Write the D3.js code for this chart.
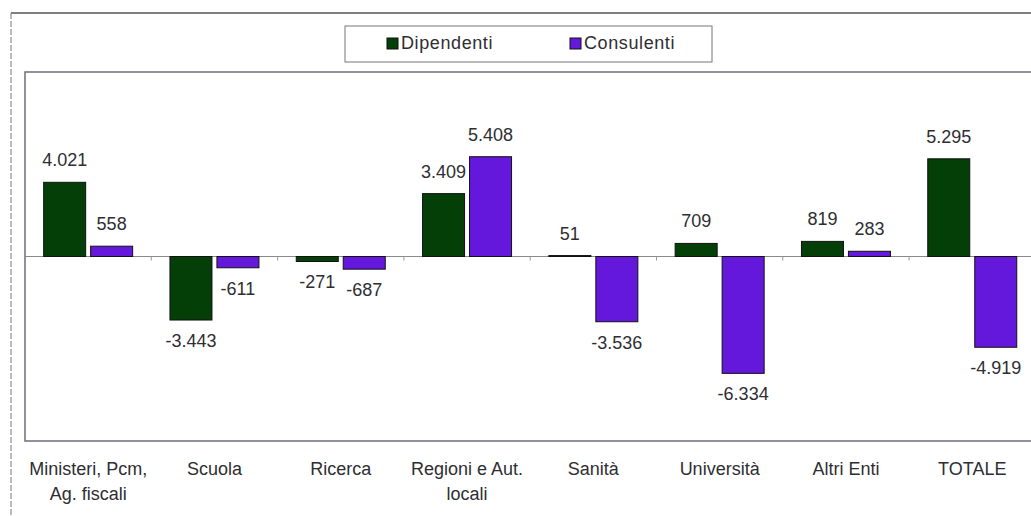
<html>
<head>
<script src="https://d3js.org/d3.v7.min.js"></script>
<style>
  body { margin: 0; background: #fff; }
  text { font-family: "Liberation Sans", Arial, sans-serif; fill: #2e2e32; }
</style>
</head>
<body>
<script>
// data
var categories = ["Ministeri", "Scuola", "Ricerca", "Regioni", "Sanita", "Universita", "Altri Enti", "TOTALE"];
var categoryLabels = [["Ministeri, Pcm,", "Ag. fiscali"], ["Scuola"], ["Ricerca"], ["Regioni e Aut.", "locali"],
                      ["Sanità"], ["Università"], ["Altri Enti"], ["TOTALE"]];
var series = ["Dipendenti", "Consulenti"];
var dipendenti = [4021, -3443, -271, 3409, 51, 709, 819, 5295];
var consulenti = [558, -611, -687, 5408, -3536, -6334, 283, -4919];
var colors = ["#053f08", "#6418dc"];

var W = 1031, H = 516;
var svg = d3.select("body").append("svg").attr("width", W).attr("height", H);

var fmt = d3.formatLocale({decimal: ",", thousands: ".", grouping: [3], currency: ["", ""], minus: "-"}).format(",d");

var plotLeft = 25, plotTop = 72, plotBottom = 441;
var x0 = d3.scaleBand().domain(categories).range([plotLeft, plotLeft + 8 * 126.3]);
var x1 = d3.scaleBand().domain(series).range([0, x0.bandwidth()]).paddingInner(0.106).paddingOuter(0.397);
var y = d3.scaleLinear().domain([-10000, 10000]).range([plotBottom, plotTop]);

// outer frame (only top and left edges show)
svg.append("line").attr("x1", 11).attr("x2", W).attr("y1", 13).attr("y2", 13)
    .attr("stroke", "#555").attr("stroke-width", 1.5);
svg.append("line").attr("x1", 11).attr("x2", 11).attr("y1", 13).attr("y2", H)
    .attr("stroke", "#777").attr("stroke-width", 1).attr("stroke-dasharray", "6,2");

// plot area border
svg.append("rect").attr("x", plotLeft).attr("y", plotTop)
    .attr("width", W + 20 - plotLeft).attr("height", plotBottom - plotTop)
    .attr("fill", "none").attr("stroke", "#6e6e7c").attr("stroke-width", 1.5);

// zero line with ticks at category boundaries
svg.append("line").attr("x1", plotLeft).attr("x2", W).attr("y1", y(0)).attr("y2", y(0))
    .attr("stroke", "#8a8a8a").attr("stroke-width", 1);
svg.selectAll(".tick").data(categories.slice(1)).enter().append("line")
    .attr("x1", function (d) { return x0(d); }).attr("x2", function (d) { return x0(d); })
    .attr("y1", y(0)).attr("y2", y(0) + 4)
    .attr("stroke", "#999");

var rows = categories.map(function (c, i) {
    return [{c: c, s: 0, v: dipendenti[i]}, {c: c, s: 1, v: consulenti[i]}];
});

var groups = svg.selectAll(".grp").data(rows).enter().append("g")
    .attr("transform", function (d) { return "translate(" + x0(d[0].c) + ",0)"; });

groups.selectAll("rect").data(function (d) { return d; }).enter().append("rect")
    .attr("x", function (d) { return x1(series[d.s]); })
    .attr("width", x1.bandwidth())
    .attr("y", function (d) { return y(Math.max(0, d.v)); })
    .attr("height", function (d) { return Math.abs(y(d.v) - y(0)); })
    .attr("fill", function (d) { return colors[d.s]; })
    .attr("stroke", "#111").attr("stroke-width", 1);

groups.selectAll(".val").data(function (d) { return d; }).enter().append("text")
    .attr("x", function (d) { return x1(series[d.s]) + x1.bandwidth() / 2; })
    .attr("y", function (d) { return d.v >= 0 ? y(d.v) - 16 : y(d.v) + 27; })
    .attr("text-anchor", "middle")
    .attr("font-size", 18)
    .text(function (d) { return fmt(d.v); });

// category labels
var cl = svg.selectAll(".cat").data(categories).enter().append("text")
    .attr("x", function (d) { return x0(d) + x0.bandwidth() / 2; })
    .attr("y", 475)
    .attr("text-anchor", "middle")
    .attr("font-size", 18);
cl.each(function (d, i) {
    var t = d3.select(this);
    categoryLabels[i].forEach(function (line, k) {
        t.append("tspan").attr("x", x0(d) + x0.bandwidth() / 2).attr("dy", k == 0 ? 0 : 25).text(line);
    });
});

// legend
svg.append("rect").attr("x", 345).attr("y", 26).attr("width", 367).attr("height", 36)
    .attr("fill", "#fff").attr("stroke", "#777").attr("stroke-width", 1);
var legX = [387, 570];
series.forEach(function (s, i) {
    svg.append("rect").attr("x", legX[i]).attr("y", 38).attr("width", 11).attr("height", 11)
        .attr("fill", colors[i]).attr("stroke", "#111");
    svg.append("text").attr("x", legX[i] + 14).attr("y", 49).attr("font-size", 18)
        .attr("letter-spacing", 0.6).text(s);
});
</script>
</body>
</html>
